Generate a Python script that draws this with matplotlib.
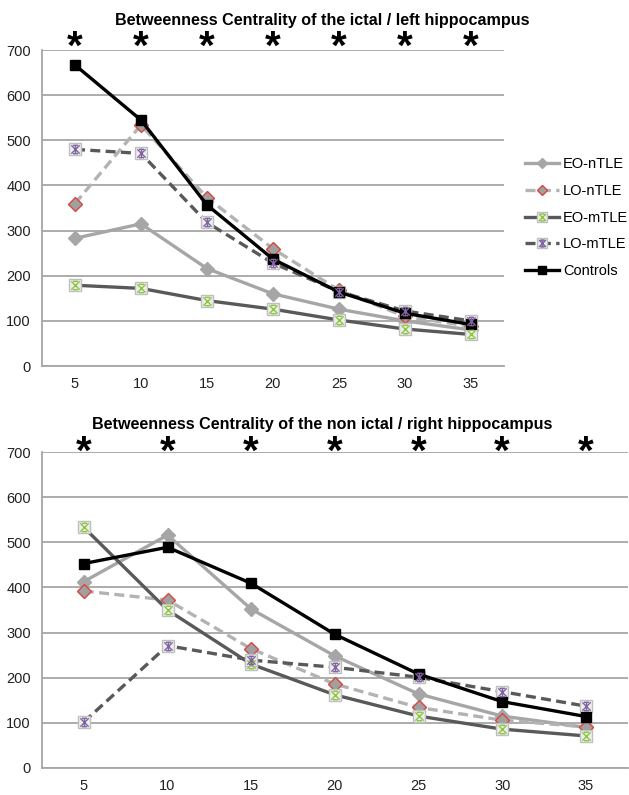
import matplotlib
matplotlib.use("Agg")
import matplotlib.pyplot as plt
from matplotlib.lines import Line2D
from matplotlib.path import Path

plt.rcParams['font.family'] = ['Liberation Sans', 'DejaVu Sans']

# x categories (shared by both panels)
windows = ['5', '10', '15', '20', '25', '30', '35']
series_names = ['EO-nTLE', 'LO-nTLE', 'EO-mTLE', 'LO-mTLE', 'Controls']

# ictal / left hippocampus
left_eo_ntle = [283, 315, 216, 160, 126, 100, 80]
left_lo_ntle = [360, 534, 373, 260, 168, 110, 88]
left_eo_mtle = [179, 172, 145, 126, 102, 82, 70]
left_lo_mtle = [480, 471, 318, 228, 165, 122, 100]
left_controls = [667, 545, 357, 237, 164, 117, 92]

# non ictal / right hippocampus
right_eo_ntle = [413, 516, 352, 248, 164, 115, 90]
right_lo_ntle = [392, 372, 264, 186, 134, 106, 91]
right_eo_mtle = [533, 350, 230, 162, 115, 86, 71]
right_lo_mtle = [102, 271, 239, 223, 201, 169, 137]
right_controls = [453, 489, 409, 296, 208, 147, 114]

# excel style "x with bars" markers
C = Path.MOVETO
L = Path.LINETO
x_bars = Path([(-1, -1), (1, 1), (-1, 1), (1, -1), (-0.6, 1), (0.6, 1), (-0.6, -1), (0.6, -1)],
              [C, L, C, L, C, L, C, L])
star_bars = Path([(-1, -1), (1, 1), (-1, 1), (1, -1), (0, -1), (0, 1),
                  (-0.6, 1), (0.6, 1), (-0.6, -1), (0.6, -1)],
                 [C, L, C, L, C, L, C, L, C, L])

styles = {
    'EO-nTLE': dict(color='#a6a6a6', ls='-', marker='D', ms=7, mfc='#a6a6a6', mec='#a6a6a6'),
    'LO-nTLE': dict(color='#b3b3b3', ls=(0, (3, 1.6)), marker='D', ms=7, mfc='#a0a0a0', mec='#d9473f'),
    'EO-mTLE': dict(color='#595959', ls='-', marker='s', ms=9, mfc='#eeeeee', mec='#bfbfbf'),
    'LO-mTLE': dict(color='#595959', ls=(0, (3, 1.6)), marker='s', ms=9, mfc='#eeeeee', mec='#bfbfbf'),
    'Controls': dict(color='black', ls='-', marker='s', ms=7, mfc='black', mec='black'),
}
overlay = {'EO-mTLE': ('#8cc63f', x_bars), 'LO-mTLE': ('#8064a2', star_bars)}


def draw(ax, data, title, title_y, star_y):
    for name, vals in zip(series_names, data):
        ax.plot(windows, vals, lw=2.4, zorder=3, **styles[name])
        if name in overlay:
            col, mk = overlay[name]
            ax.plot(windows, vals, ls='none', marker=mk, ms=6, mew=1.0,
                    color=col, zorder=4)
    ax.set_ylim(0, 700)
    ax.set_yticks(range(0, 701, 100))
    ax.set_xlim(-0.5, 6.5)
    ax.grid(axis='y', color='#a6a6a6', lw=1.3)
    ax.set_axisbelow(True)
    for s in ['top', 'right']:
        ax.spines[s].set_visible(False)
    for s in ['left', 'bottom']:
        ax.spines[s].set_color('#a6a6a6')
        ax.spines[s].set_linewidth(1.3)
    ax.tick_params(length=0, labelsize=10.5, colors='#222222', pad=8)
    for w in windows:
        ax.text(w, star_y, '*', transform=ax.get_xaxis_transform(), ha='center',
                va='center', fontsize=29, fontweight='bold', clip_on=False)
    fig.text(322 / 629, title_y, title, ha='center', va='center',
             fontsize=11.6, fontweight='bold')


fig = plt.figure(figsize=(6.29, 7.95), dpi=100)
ax1 = fig.add_axes([0.0668, 0.5396, 0.801 - 0.0668, 0.937 - 0.5396])
ax2 = fig.add_axes([0.0668, 0.034, 0.998 - 0.0668, 0.4314 - 0.034])

draw(ax1, [left_eo_ntle, left_lo_ntle, left_eo_mtle, left_lo_mtle, left_controls],
     'Betweenness Centrality of the ictal / left hippocampus', 1 - 21 / 795, 1.007)
draw(ax2, [right_eo_ntle, right_lo_ntle, right_eo_mtle, right_lo_mtle, right_controls],
     'Betweenness Centrality of the non ictal / right hippocampus', 1 - 425 / 795, 0.997)

handles = []
for name in series_names:
    st = dict(styles[name])
    st['ms'] = st['ms'] * 0.8
    h = Line2D([], [], lw=2.4, **st)
    if name in overlay:
        col, mk = overlay[name]
        h = (h, Line2D([], [], ls='none', marker=mk, ms=5, mew=1.0, color=col))
    handles.append(h)
fig.legend(handles, series_names, loc='upper left', bbox_to_anchor=(525 / 629, 1 - 157 / 795),
           frameon=False, fontsize=10.5, handlelength=2.3, handletextpad=0.3,
           labelspacing=0.88, borderaxespad=0, borderpad=0)

fig.savefig('out.png', dpi=100)
